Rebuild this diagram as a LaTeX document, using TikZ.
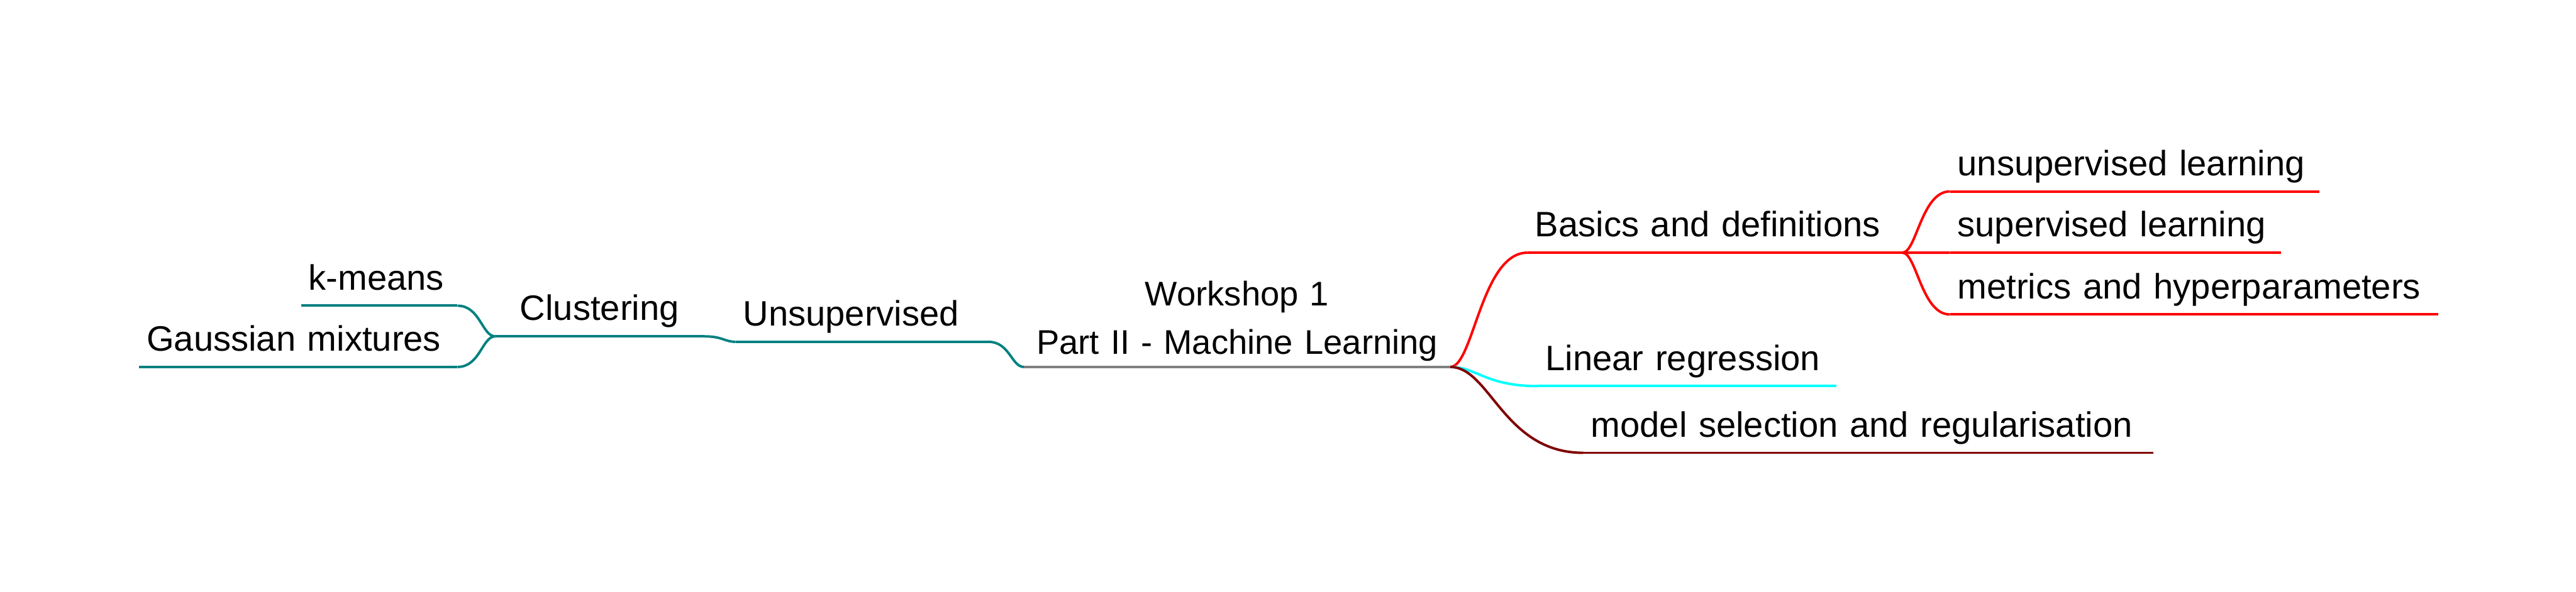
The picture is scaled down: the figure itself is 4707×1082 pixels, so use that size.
\documentclass[tikz,border=0pt]{standalone}
\usepackage{fontspec}
\setmainfont{Liberation Sans}
\usetikzlibrary{calc}
\definecolor{mmteal}{RGB}{0,128,128}
\definecolor{mmred}{RGB}{255,0,0}
\definecolor{mmcyan}{RGB}{0,255,255}
\definecolor{mmdarkred}{RGB}{128,0,0}
\definecolor{mmgray}{RGB}{128,128,128}

\begin{document}
\begin{tikzpicture}[
  x=0.2pt, y=-0.2pt,
  every node/.style={font=\fontsize{12.9}{17.6}\selectfont},
  topic/.style={anchor=south west,inner xsep=2.6pt,inner ysep=5.6pt,text depth=0pt,align=left},
  central/.style={anchor=south west,inner xsep=0pt,inner ysep=2pt,align=center,
    font=\fontsize{12.5}{17.6}\selectfont},
  uline/.style={line width=0.9pt},
  % parent on the left, child on the right
  rlink/.style={line width=0.9pt,
    to path={.. controls ($(\tikztostart)!0.3!(\tikztotarget |- \tikztostart)$)
      and ($(\tikztotarget)!0.6!(\tikztostart |- \tikztotarget)$) .. (\tikztotarget)}},
  % child on the left, parent on the right
  llink/.style={line width=0.9pt,
    to path={.. controls ($(\tikztostart)!0.6!(\tikztotarget |- \tikztostart)$)
      and ($(\tikztotarget)!0.35!(\tikztostart |- \tikztotarget)$) .. (\tikztotarget)}}
]
\useasboundingbox (0,0) rectangle (4707,1082);

% central topic
\node[central,text width=155.4pt] (root) at (1871,671)
  {Workshop 1\\Part II - Machine Learning};

% left side
\node[topic,text width=86.8pt] (unsup) at (1344,625) {Unsupervised};
\node[topic,text width=70.6pt,align=center] (clust) at (905,615) {Clustering};
\node[topic,text width=51.6pt] (kmeans) at (550,559) {k-means};
\node[topic,text width=110.8pt] (gauss) at (254,671) {Gaussian mixtures};

% right side
\node[topic,text width=131.4pt] (basics) at (2791,462) {Basics and definitions};
\node[topic,text width=129.4pt] (unsupl) at (3563,350) {unsupervised learning};
\node[topic,text width=115.4pt] (supl) at (3563,462) {supervised learning};
\node[topic,text width=172.8pt] (metrics) at (3563,575) {metrics and hyperparameters};
\node[topic,text width=103.4pt] (linreg) at (2810,706) {Linear regression};
\node[topic,text width=202.8pt] (modsel) at (2893,828) {model selection and regularisation};

% underlines
\foreach \n/\c in {root/mmgray,unsup/mmteal,clust/mmteal,kmeans/mmteal,gauss/mmteal,
  basics/mmred,unsupl/mmred,supl/mmred,metrics/mmred,linreg/mmcyan,modsel/mmdarkred}
  \draw[uline,\c] (\n.south west) -- (\n.south east);

% branches
\draw[llink,mmteal] (kmeans.south east) to (clust.south west);
\draw[llink,mmteal] (gauss.south east) to (clust.south west);
\draw[llink,mmteal] (clust.south east) to (unsup.south west);
\draw[llink,mmteal] (unsup.south east) to (root.south west);
\draw[rlink,mmred] (root.south east) to (basics.south west);
\draw[rlink,mmcyan] (root.south east) to (linreg.south west);
\draw[rlink,mmdarkred] (root.south east) to (modsel.south west);
\draw[rlink,mmred] (basics.south east) to (unsupl.south west);
\draw[rlink,mmred] (basics.south east) to (supl.south west);
\draw[rlink,mmred] (basics.south east) to (metrics.south west);
\end{tikzpicture}
\end{document}
